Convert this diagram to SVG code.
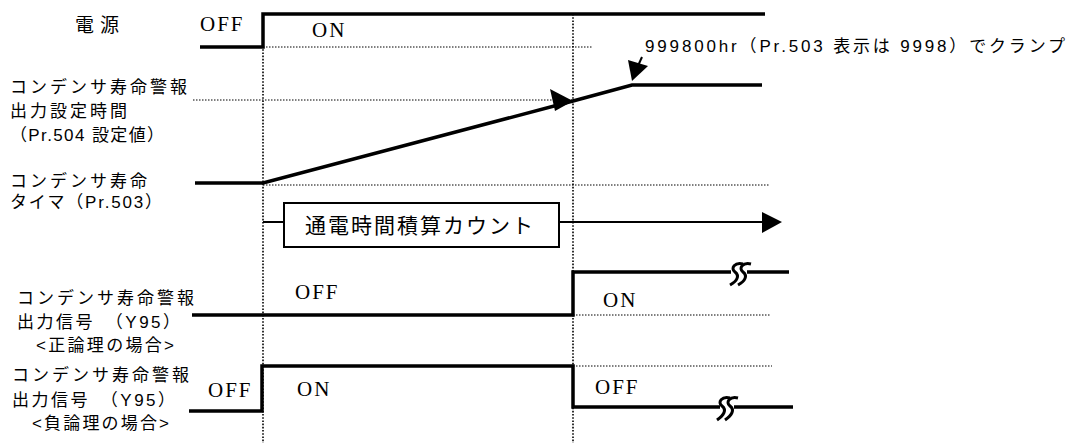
<svg xmlns="http://www.w3.org/2000/svg" width="1068" height="443" viewBox="0 0 1068 443">
<style>
.bg{fill:#fff}
.sig{fill:none;stroke:#000;stroke-width:3.5;stroke-linejoin:miter}
.vdot{fill:none;stroke:#000;stroke-width:1.6;stroke-dasharray:1.6 1.6}
.hdot{fill:none;stroke:#000;stroke-width:1;stroke-dasharray:1.5 1.5}
.thin{fill:none;stroke:#000;stroke-width:2}
.brk{fill:none;stroke:#000;stroke-width:3;stroke-linecap:butt}
.jp{font-family:"Liberation Sans","Noto Sans CJK JP",sans-serif;font-size:17px;letter-spacing:3px;fill:#000}
.ser{font-family:"Liberation Serif","Noto Sans CJK JP",serif;font-size:21px;letter-spacing:2px;fill:#000}
.head{fill:#000}
</style>
<rect class="bg" x="0" y="0" width="1068" height="443"/>

<g id="gridlines">
<path class="vdot" d="M263,14 V443"/>
<path class="vdot" d="M573,14 V443"/>
<path class="hdot" d="M263,47 H593"/>
<path class="hdot" d="M193,100 H573"/>
<path class="hdot" d="M263,185 H770"/>
<path class="hdot" d="M573,315 H770"/>
<path class="hdot" d="M573,366 H772"/>
</g>

<g id="power">
<text x="75" y="32" class="jp" style="font-size:19px;letter-spacing:6px">電源</text>
<text x="200" y="31" class="ser">OFF</text>
<text x="312" y="37" class="ser">ON</text>
<path class="sig" d="M200,47 H263 V14 H765"/>
</g>

<g id="warning-time-label">
<text x="10" y="93" class="jp">コンデンサ寿命警報</text>
<text x="10" y="117" class="jp">出力設定時間</text>
<text x="10" y="141" class="jp" textLength="157" lengthAdjust="spacing">（Pr.504 設定値）</text>
</g>

<g id="timer">
<text x="10" y="187" class="jp">コンデンサ寿命</text>
<text x="10" y="208" class="jp" textLength="155" lengthAdjust="spacing">タイマ（Pr.503）</text>
<path class="sig" d="M195,183 H263 L573,101 L632,85 H762"/>
<polygon class="head" points="573,101 550,89 555,111"/>
</g>

<g id="clamp-note">
<text x="645" y="52" class="jp" style="font-size:17px;letter-spacing:0" textLength="420" lengthAdjust="spacing">999800hr（Pr.503 表示は 9998）でクランプ</text>
<path class="thin" d="M642,57 L637,68"/>
<polygon class="head" points="632,81 628,60 648,66"/>
</g>

<g id="count-box">
<rect x="284" y="203" width="275" height="44" fill="#fff" stroke="#000" stroke-width="2"/>
<text x="305" y="233" class="jp" style="font-size:21px;letter-spacing:2px">通電時間積算カウント</text>
</g>

<g id="connectors">
<path class="thin" d="M263,222 H284"/>
<path class="thin" d="M559,222 H764"/>
<polygon class="head" points="762,212 782,222 762,233"/>
</g>

<g id="y95-positive">
<text x="17" y="304" class="jp">コンデンサ寿命警報</text>
<text x="17" y="328" class="jp" textLength="166" lengthAdjust="spacing">出力信号　（Y95）</text>
<text x="36" y="351" class="jp" textLength="141" lengthAdjust="spacing">&lt;正論理の場合&gt;</text>
<text x="295" y="299" class="ser">OFF</text>
<text x="603" y="307" class="ser">ON</text>
<path class="sig" d="M192,315 H573 V272 H731"/>
<path class="sig" d="M747,272 H789"/>
<path class="brk" d="M743,264 C735,262 730,268 735,272 C740,276 737,281 730,285"/>
<path class="brk" d="M751,264 C743,262 738,268 743,272 C748,276 745,281 738,285"/>
</g>

<g id="y95-negative">
<text x="12" y="381" class="jp">コンデンサ寿命警報</text>
<text x="12" y="406" class="jp" textLength="166" lengthAdjust="spacing">出力信号　（Y95）</text>
<text x="32" y="429" class="jp" textLength="140" lengthAdjust="spacing">&lt;負論理の場合&gt;</text>
<text x="208" y="397" class="ser">OFF</text>
<text x="297" y="396" class="ser">ON</text>
<text x="595" y="394" class="ser">OFF</text>
<path class="sig" d="M189,411 H262 V366 H573 V407 H720"/>
<path class="sig" d="M734,407 H793"/>
<path class="brk" d="M730,398 C722,396 717,402 722,406 C727,410 724,415 717,420"/>
<path class="brk" d="M738,398 C730,396 725,402 730,406 C735,410 732,415 725,420"/>
</g>
</svg>
